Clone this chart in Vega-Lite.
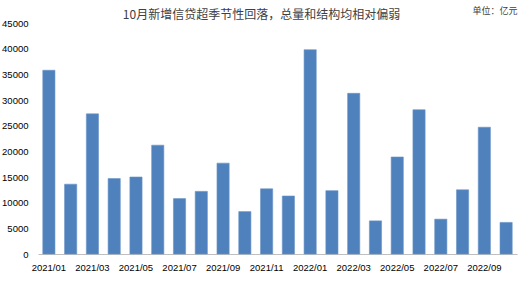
{
  "$schema": "https://vega.github.io/schema/vega-lite/v6.json",
  "width": 479,
  "height": 231,
  "autosize": {"type": "none"},
  "padding": {"left": 38, "top": 23, "right": 12, "bottom": 28},
  "background": "white",
  "title": {
    "text": "10月新增信贷超季节性回落，总量和结构均相对偏弱",
    "anchor": "middle",
    "dx": -16,
    "offset": -16,
    "font": "Noto Sans CJK SC",
    "fontSize": 12,
    "fontWeight": "normal",
    "color": "#404040"
  },
  "data": {
    "values": [
      {"month": "2021/01", "loans": 35800},
      {"month": "2021/02", "loans": 13600},
      {"month": "2021/03", "loans": 27300},
      {"month": "2021/04", "loans": 14700},
      {"month": "2021/05", "loans": 15000},
      {"month": "2021/06", "loans": 21200},
      {"month": "2021/07", "loans": 10800},
      {"month": "2021/08", "loans": 12200},
      {"month": "2021/09", "loans": 17700},
      {"month": "2021/10", "loans": 8262},
      {"month": "2021/11", "loans": 12700},
      {"month": "2021/12", "loans": 11300},
      {"month": "2022/01", "loans": 39800},
      {"month": "2022/02", "loans": 12336},
      {"month": "2022/03", "loans": 31300},
      {"month": "2022/04", "loans": 6454},
      {"month": "2022/05", "loans": 18900},
      {"month": "2022/06", "loans": 28100},
      {"month": "2022/07", "loans": 6790},
      {"month": "2022/08", "loans": 12500},
      {"month": "2022/09", "loans": 24700},
      {"month": "2022/10", "loans": 6152}
    ]
  },
  "mark": {"type": "bar", "color": "#4F81BD", "stroke": "#6A95C8", "strokeWidth": 0.6},
  "encoding": {
    "x": {
      "field": "month",
      "type": "ordinal",
      "sort": null,
      "scale": {"paddingInner": 0.44, "paddingOuter": 0.22},
      "axis": {
        "title": null,
        "values": ["2021/01", "2021/03", "2021/05", "2021/07", "2021/09", "2021/11", "2022/01", "2022/03", "2022/05", "2022/07", "2022/09"],
        "labelAngle": 0,
        "ticks": false,
        "domainColor": "#BFBFBF",
        "domainWidth": 1,
        "labelPadding": 8,
        "labelFont": "Liberation Sans",
        "labelFontSize": 9.5,
        "labelColor": "#000000"
      }
    },
    "y": {
      "field": "loans",
      "type": "quantitative",
      "scale": {"domain": [0, 45000], "nice": false},
      "axis": {
        "title": "单位：亿元",
        "titleAngle": 0,
        "titleAlign": "right",
        "titleBaseline": "middle",
        "titleX": 479,
        "titleY": -13,
        "titleFont": "Noto Sans CJK SC",
        "titleFontSize": 9,
        "titleFontWeight": "normal",
        "titleColor": "#404040",
        "values": [0, 5000, 10000, 15000, 20000, 25000, 30000, 35000, 40000, 45000],
        "format": "d",
        "grid": false,
        "domain": false,
        "ticks": false,
        "labelPadding": 10,
        "labelFont": "Liberation Sans",
        "labelFontSize": 9.5,
        "labelColor": "#000000"
      }
    }
  },
  "config": {"view": {"stroke": null}}
}
